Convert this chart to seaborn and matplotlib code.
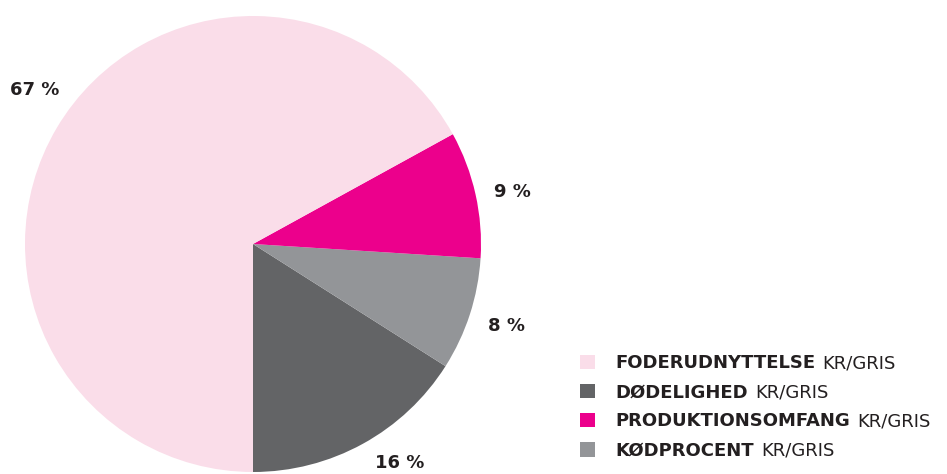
import matplotlib
matplotlib.use('Agg')
import matplotlib.pyplot as plt
import seaborn as sns
from matplotlib.patches import Patch

# Data (slices counter-clockwise from the bottom)
categories = ['DØDELIGHED', 'KØDPROCENT', 'PRODUKTIONSOMFANG', 'FODERUDNYTTELSE']
values = [16, 8, 9, 67]
colors = ['#636466', '#939598', '#EC008C', '#FADDE9']
legend_order = ['FODERUDNYTTELSE', 'DØDELIGHED', 'PRODUKTIONSOMFANG', 'KØDPROCENT']
unit = 'KR/GRIS'

# Layout for percentage labels (in pie radius units)
label_xy = [(0.645, -0.96), (1.114, -0.36), (1.14, 0.23), (-0.956, 0.675)]

sns.set_theme(style='white')
plt.rcParams['font.family'] = ['DejaVu Sans']
txt_color = '#231F20'

W, H = 947, 474
fig = plt.figure(figsize=(W / 100, H / 100), dpi=100)
cx, cy, r = 253, 244, 228
ax = fig.add_axes([(cx - r) / W, (H - cy - r) / H, 2 * r / W, 2 * r / H])

pal = sns.color_palette(colors)
wedges, texts, autotexts = ax.pie(
    values, colors=pal, startangle=270, counterclock=True, radius=1,
    autopct=lambda p: f'{p:.0f} %', pctdistance=1.17,
    textprops=dict(fontsize=13, fontweight='bold', color=txt_color),
    wedgeprops=dict(linewidth=0))
for t, xy in zip(autotexts, label_xy):
    t.set_position(xy)
    t.set_ha('center'); t.set_va('center')
ax.set_xlim(-1, 1)
ax.set_ylim(-1, 1)
ax.set_aspect('equal')
ax.axis('off')

cmap = dict(zip(categories, pal))
handles = [Patch(facecolor=cmap[c], edgecolor='none') for c in legend_order]
leg = fig.legend(handles, legend_order, loc='upper left',
                 bbox_to_anchor=(580 / W, 1 - 354 / H), frameon=False,
                 prop=dict(size=13, weight='bold'),
                 handlelength=0.85, handleheight=0.85, handletextpad=1.1,
                 labelspacing=0.62, borderaxespad=0, borderpad=0)
for t in leg.get_texts():
    t.set_color(txt_color)

fig.canvas.draw()
renderer = fig.canvas.get_renderer()
inv = fig.transFigure.inverted()
for t in leg.get_texts():
    bb = t.get_window_extent(renderer)
    x0, y0 = inv.transform((bb.x1 + 7, (bb.y0 + bb.y1) / 2))
    fig.text(x0, y0, unit, fontsize=13, color=txt_color, ha='left', va='center')

fig.savefig('out.png', dpi=100, facecolor='white')
